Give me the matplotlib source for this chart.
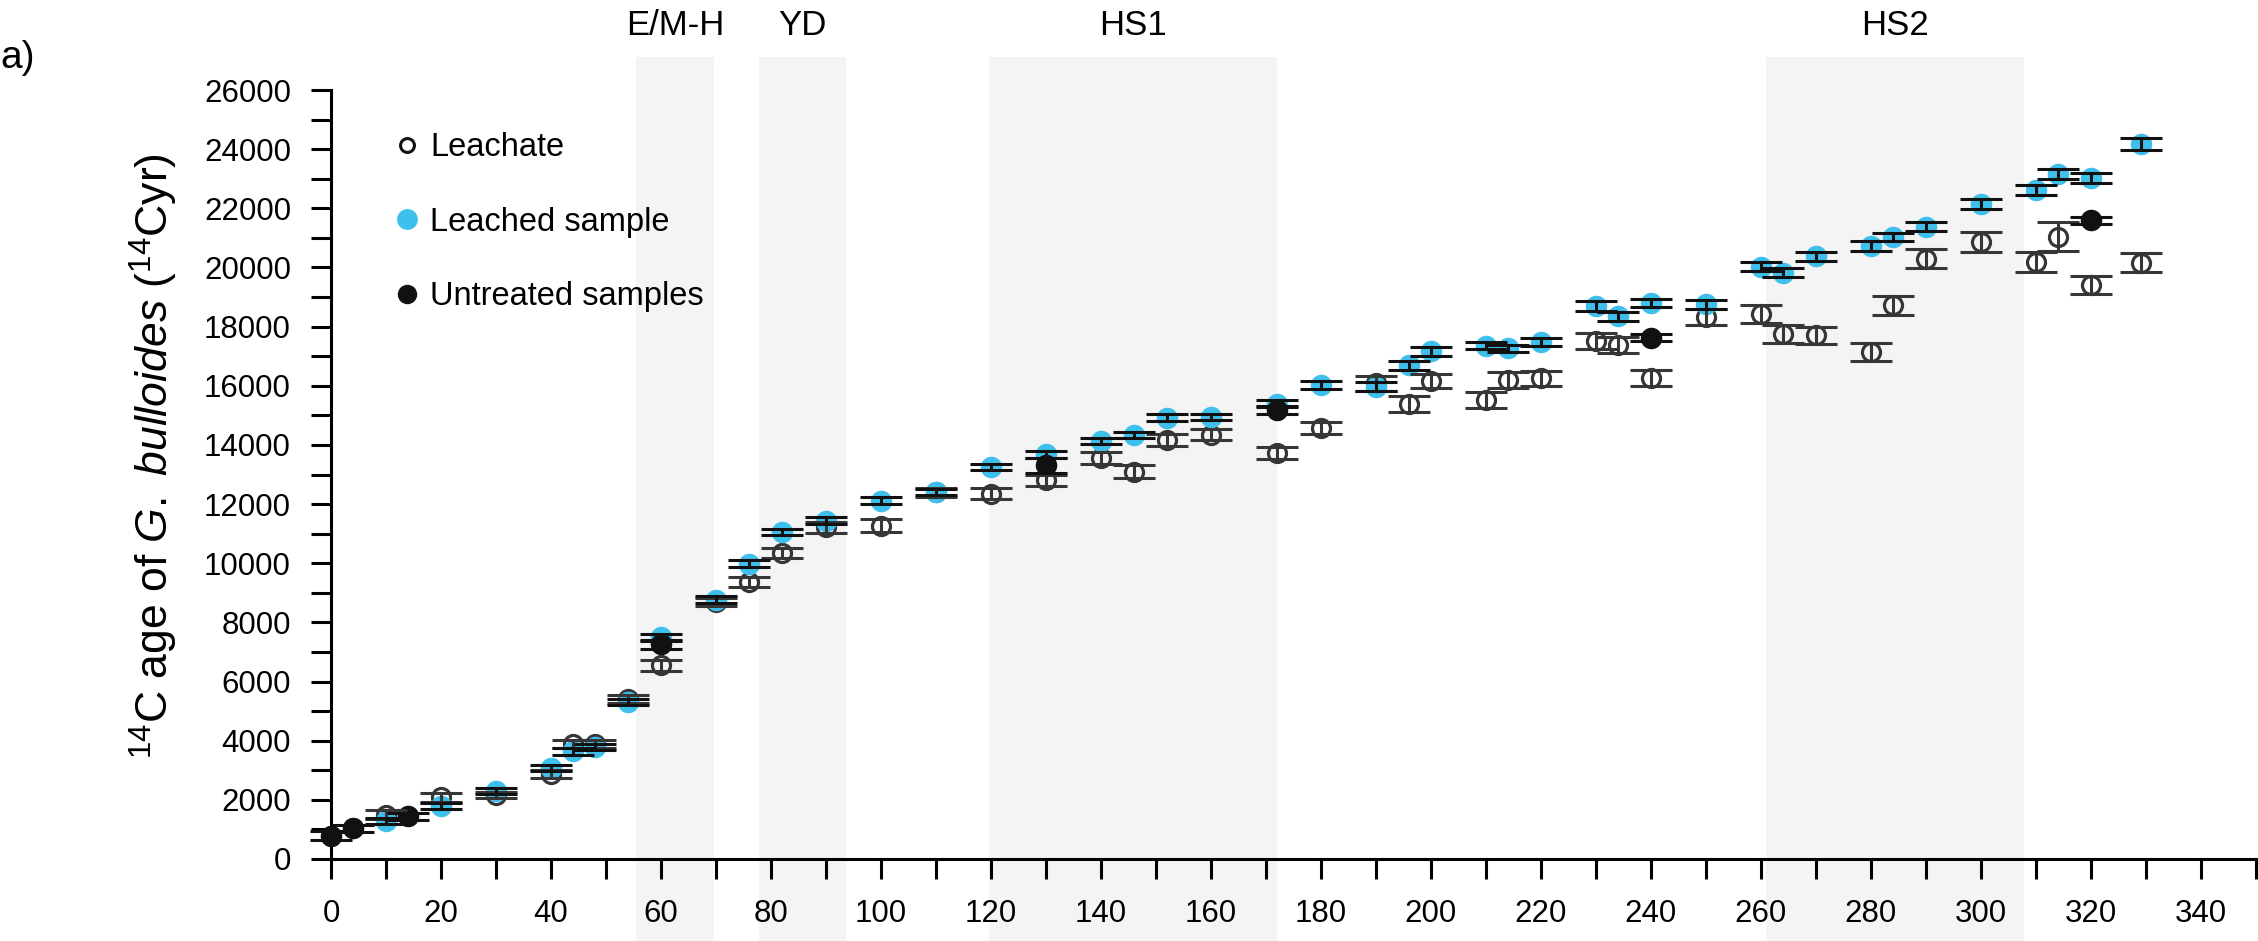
"""14C ages of G. bulloides: leachate vs leached vs untreated samples, by depth."""
import matplotlib
matplotlib.use("Agg")
import matplotlib.pyplot as plt
import matplotlib.transforms as mtransforms
from matplotlib.lines import Line2D
from matplotlib.ticker import MultipleLocator

plt.rcParams["font.family"] = ["Liberation Sans", "DejaVu Sans"]
plt.rcParams["mathtext.fontset"] = "custom"
plt.rcParams["mathtext.rm"] = "Liberation Sans"
plt.rcParams["mathtext.it"] = "Liberation Sans:italic"

# depth positions shared by the paired leachate / leached measurements
depth = [10, 20, 30, 40, 44, 48, 54, 60, 70, 76, 82, 90, 100, 110, 120, 130,
         140, 146, 152, 160, 172, 180, 190, 196, 200, 210, 214, 220, 230, 234,
         240, 250, 260, 264, 270, 280, 284, 290, 300, 310, 314, 320, 329]

leached_age = [1270, 1780, 2290, 3080, 3640, 3790, 5300, 7490, 8770, 9980,
               11050, 11440, 12120, 12410, 13260, 13680, 14130, 14330, 14920,
               14950, 15400, 16030, 15970, 16700, 17160, 17350, 17270, 17480,
               18690, 18350, 18800, 18760, 20030, 19820, 20380, 20720, 21030,
               21380, 22130, 22610, 23150, 23020, 24170]
leached_err = [100, 100, 100, 100, 120, 100, 100, 110, 110, 120,
               110, 110, 120, 110, 100, 120, 110, 100, 110,
               110, 110, 140, 150, 150, 140, 120, 120, 130,
               170, 160, 150, 150, 150, 150, 150, 160, 150,
               160, 170, 170, 170, 170, 200]

leachate_age = [1490, 2090, 2170, 2870, 3890, 3890, 5420, 6550, 8700, 9350,
                10350, 11210, 11270, 12400, 12350, 12800, 13560, 13100, 14160,
                14350, 13740, 14580, 16080, 15400, 16160, 15520, 16200, 16250,
                17520, 17380, 16250, 18330, 18420, 17750, 17700, 17130, 18720,
                20290, 20870, 20190, 21040, 19400, 20160]
leachate_err = [150, 150, 100, 130, 150, 150, 130, 180, 130, 170,
                170, 200, 210, 150, 180, 200, 200, 220, 200,
                200, 200, 210, 250, 270, 250, 260, 260, 250,
                280, 270, 270, 280, 300, 290, 300, 300, 330,
                320, 340, 330, 490, 310, 316]

untreated_depth = [0, 4, 14, 60, 130, 172, 240, 320]
untreated_age = [780, 1040, 1440, 7260, 13310, 15180, 17630, 21600]
untreated_err = [150, 120, 110, 150, 250, 130, 110, 120]

# climate intervals (depth ranges) shaded in grey
events = ["E/M-H", "YD", "HS1", "HS2"]
event_start = [55.5, 77.9, 119.6, 260.9]
event_end = [69.7, 93.6, 172.0, 307.8]

BLUE = "#3fc0ec"
GREY = "#363636"
BLACK = "#111111"

fig = plt.figure(figsize=(22.58, 9.41), dpi=100)
ax = fig.add_axes([331 / 2258, 82 / 941, 1925 / 2258, 769 / 941])

# shaded bands run from above the plot down to the bottom of the figure
for s, e in zip(event_start, event_end):
    ax.axvspan(s, e, ymin=-0.107, ymax=1.043, color="#f4f4f4", lw=0,
               zorder=0, clip_on=False)
trans = mtransforms.blended_transform_factory(ax.transData, fig.transFigure)
for name, s, e in zip(events, event_start, event_end):
    ax.text((s + e) / 2, 0.973, name, transform=trans, ha="center",
            va="center", fontsize=25)

# markers first, error bars drawn over them
ax.plot(depth, leachate_age, "o", ms=13, mfc="none", mec=GREY, mew=2.3,
        zorder=3, clip_on=False)
ax.plot(depth, leached_age, "o", ms=15.5, mfc=BLUE, mec="none",
        zorder=4, clip_on=False)
ax.plot(untreated_depth, untreated_age, "o", ms=15.5, mfc=BLACK, mec="none",
        zorder=5, clip_on=False)

eb_kw = dict(fmt="none", capsize=14.8, capthick=2.2, elinewidth=2.2)
for x, y, err, c, z in [(depth, leachate_age, leachate_err, GREY, 6),
                        (depth, leached_age, leached_err, BLACK, 7),
                        (untreated_depth, untreated_age, untreated_err, BLACK, 8)]:
    eb = ax.errorbar(x, y, yerr=err, ecolor=c, zorder=z, **eb_kw)
    for art in eb.lines[1] + eb.lines[2]:
        art.set_clip_on(False)

ax.set_xlim(0, 350)
ax.set_ylim(0, 26000)
ax.xaxis.set_minor_locator(MultipleLocator(10))
ax.yaxis.set_major_locator(MultipleLocator(2000))
ax.yaxis.set_minor_locator(MultipleLocator(1000))
ax.set_xticks([t for t in range(0, 341, 20)])
ax.tick_params(which="both", direction="out", length=14.4, width=2.2,
               color="black")
ax.tick_params(which="major", labelsize=22.5, pad=14.4)
for side in ["top", "right"]:
    ax.spines[side].set_visible(False)
for side in ["left", "bottom"]:
    ax.spines[side].set_linewidth(2.2)
ax.set_facecolor("none")

fig.text(180 / 2258, 1 - 456 / 941,
         r"$^{14}$C age of $\mathit{G.\ bulloides}$ ($^{14}$Cyr)",
         rotation=90, ha="right", va="center", fontsize=32)
fig.text(0.0, 1 - 58 / 941, "a)", ha="left", va="center", fontsize=28)

handles = [
    Line2D([], [], ls="none", marker="o", ms=10, mfc="none", mec=BLACK, mew=2.2),
    Line2D([], [], ls="none", marker="o", ms=15, mfc=BLUE, mec="none"),
    Line2D([], [], ls="none", marker="o", ms=14, mfc=BLACK, mec="none"),
]
ax.legend(handles, ["Leachate", "Leached sample", "Untreated samples"],
          loc="upper left", bbox_to_anchor=(0.0325, 0.945), frameon=False,
          fontsize=23.5, handlelength=0.8, handletextpad=0.32, labelspacing=1.33,
          borderpad=0, borderaxespad=0)

fig.savefig("out.png", dpi=100)
